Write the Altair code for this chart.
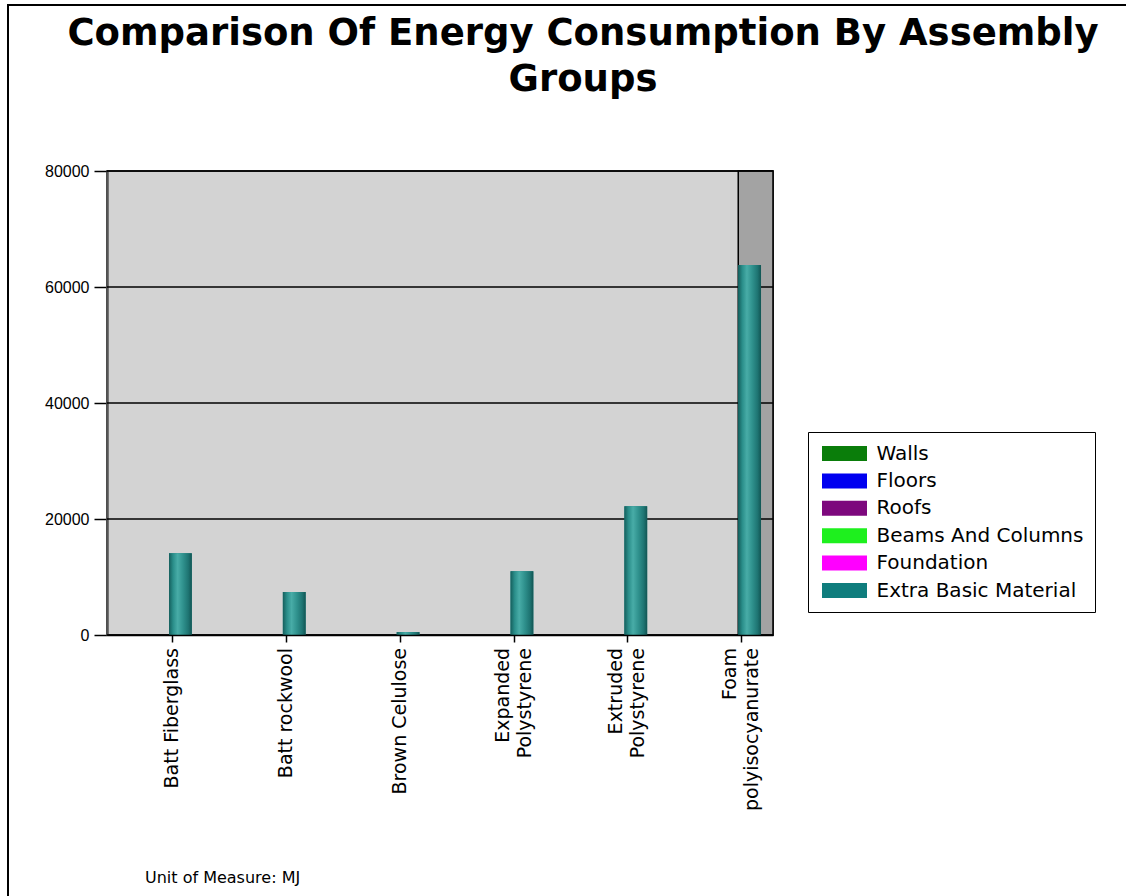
import altair as alt
import pandas as pd

# Insulation materials (line breaks mark where the axis label wraps)
materials = [
    "Batt Fiberglass",
    "Batt rockwool",
    "Brown Celulose",
    "Expanded\nPolystyrene",
    "Extruded\nPolystyrene",
    "Foam\npolyisocyanurate",
]
# Embodied energy per material, MJ
energy_mj = [14100, 7400, 500, 11000, 22200, 63800]

# Assembly groups shown in the legend and their colours
groups = ["Walls", "Floors", "Roofs", "Beams And Columns", "Foundation", "Extra Basic Material"]
group_colors = ["#0A7D0A", "#0000F0", "#7D087D", "#1EF01E", "#FF00FF", "#0F7D7D"]

y_ticks = [0, 20000, 40000, 60000, 80000]
unit_note = ["Unit of Measure: MJ"]
title_lines = ["Comparison Of Energy Consumption By Assembly", "Groups"]

LINE_GAP = 22  # spacing between wrapped lines of a category label

bars_df = pd.DataFrame({
    "material": materials,
    "energy": energy_mj,
    "group": ["Extra Basic Material"] * len(materials),
})
highlight_df = pd.DataFrame({"material": [materials[-1]]})
grid_df = pd.DataFrame({"energy": y_ticks})
note_df = pd.DataFrame({"note": unit_note})

# one row per printed line of each category label, with its offset across the tick
label_rows = []
for m in materials:
    parts = m.split("\n")
    for i, part in enumerate(parts):
        label_rows.append({"material": m, "line": part, "shift": (i - (len(parts) - 1) / 2) * LINE_GAP})
labels_df = pd.DataFrame(label_rows)

x_scale = alt.Scale(domain=materials, paddingInner=0.8, paddingOuter=0.325, align=0.838)
y_scale = alt.Scale(domain=[0, 80000], nice=False)

x_axis = alt.Axis(
    title=None,
    labels=False,
    tickOffset=-8.4,
    tickSize=7,
    tickColor="black",
    tickWidth=1.5,
    domainColor="black",
    domainWidth=1.5,
)
y_axis = alt.Axis(
    title=None,
    values=y_ticks,
    format="d",
    grid=False,
    labelFont="Liberation Sans",
    labelFontSize=16,
    labelColor="black",
    labelPadding=5,
    tickSize=13,
    tickColor="black",
    tickWidth=1.5,
    domainColor="#555555",
    domainWidth=2.5,
)

X = alt.X("material:N", scale=x_scale, axis=x_axis, sort=materials)
Y = alt.Y("energy:Q", scale=y_scale, axis=y_axis)

# darker band behind the last category
highlight = alt.Chart(highlight_df).mark_rect(
    fill="#A3A3A3", stroke="black", strokeWidth=1.5
).encode(
    x=alt.X("material:N", scale=x_scale, axis=x_axis, sort=materials, bandPosition=0),
    x2=alt.value("width"),
    y=alt.value(0),
    y2=alt.value("height"),
)

grid = alt.Chart(grid_df).mark_rule(color="black", strokeWidth=1.6).encode(y=Y)

legend = alt.Legend(
    orient="none",
    legendX=701,
    legendY=261,
    title=None,
    symbolType="M-3,-1H3V1H-3Z",
    symbolSize=225,
    symbolStrokeWidth=0,
    symbolOpacity=1,
    symbolOffset=15,
    labelOffset=22,
    labelFont="DejaVu Sans",
    labelFontSize=20,
    labelColor="black",
    labelLimit=400,
    rowPadding=7.4,
    padding=11.5,
    strokeColor="black",
    fillColor="white",
)

flat_bars = alt.Chart(bars_df).mark_bar().encode(
    x=X,
    y=Y,
    color=alt.Color("group:N", scale=alt.Scale(domain=groups, range=group_colors), legend=legend),
)

cylinder = alt.Gradient(
    gradient="linear",
    stops=[
        alt.GradientStop(color="#155f5d", offset=0),
        alt.GradientStop(color="#2a8e8a", offset=0.18),
        alt.GradientStop(color="#48aca7", offset=0.38),
        alt.GradientStop(color="#2f918d", offset=0.62),
        alt.GradientStop(color="#1e7472", offset=0.85),
        alt.GradientStop(color="#125553", offset=1),
    ],
    x1=0, x2=1, y1=0, y2=0,
)
shaded_bars = alt.Chart(bars_df).mark_bar(color=cylinder).encode(x=X, y=Y)

# category labels, rotated, one layer per line offset
label_layers = []
for shift in sorted(labels_df["shift"].unique()):
    label_layers.append(
        alt.Chart(labels_df).transform_filter(alt.datum.shift == float(shift)).mark_text(
            angle=270, align="right", baseline="middle", dy=float(shift),
            font="DejaVu Sans", fontSize=19, color="black",
        ).encode(
            x=alt.X("material:N", scale=x_scale, axis=x_axis, sort=materials, bandPosition=0.13),
            y=alt.value({"expr": "height + 13"}),
            text="line:N",
        )
    )

heading = alt.Chart(note_df).mark_text(
    text=title_lines, align="center", baseline="alphabetic", lineHeight=46,
    font="DejaVu Sans", fontSize=37, fontWeight="bold", color="black",
).encode(x=alt.value(476), y=alt.value(-126))

note = alt.Chart(note_df).mark_text(
    align="left", baseline="alphabetic", font="DejaVu Sans", fontSize=16, color="black"
).encode(x=alt.value(38), y=alt.value(712), text="note:N")

frame = alt.Chart(note_df).mark_rect(
    fillOpacity=0, stroke="black", strokeWidth=2
).encode(x=alt.value(-99), y=alt.value(-166), x2=alt.value(1030), y2=alt.value(740))

chart = alt.layer(
    highlight, grid, flat_bars, shaded_bars, *label_layers, heading, note, frame
).properties(
    width=666,
    height=464,
    background="white",
    autosize=alt.AutoSizeParams(type="none"),
    padding={"left": 107, "top": 171, "right": 353, "bottom": 261},
).configure_view(
    fill="#D3D3D3", stroke="black", strokeWidth=1.5
)

chart.save("out.html", embed_options={"renderer": "svg", "actions": False})
